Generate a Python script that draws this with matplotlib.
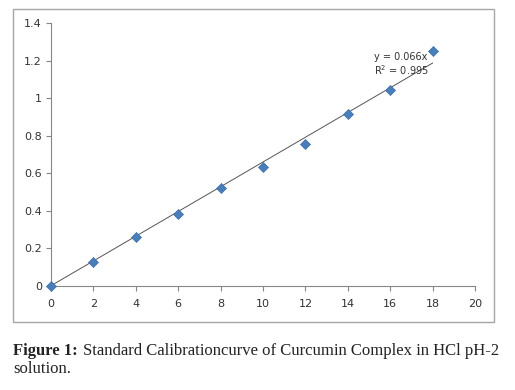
import matplotlib
matplotlib.use("Agg")
import matplotlib.pyplot as plt
import matplotlib.patches as patches

concentracao = [0, 2, 4, 6, 8, 10, 12, 14, 16, 18]
absorvancia = [0, 0.126, 0.26, 0.382, 0.523, 0.635, 0.754, 0.916, 1.046, 1.254]
declive = 0.066
r2 = 0.995
xticks = [0, 2, 4, 6, 8, 10, 12, 14, 16, 18, 20]
yticks = [0, 0.2, 0.4, 0.6, 0.8, 1, 1.2, 1.4]
yticklabels = ["0", "0.2", "0.4", "0.6", "0.8", "1", "1.2", "1.4"]

W, H = 515, 390
fig = plt.figure(figsize=(W / 100, H / 100), dpi=100)

# moldura do gráfico
caixa = patches.Rectangle((12.5 / W, 1 - 322 / H), (494 - 12.5) / W, (322 - 9) / H,
                          transform=fig.transFigure, fill=False, edgecolor="#a6a6a6", lw=1)
fig.add_artist(caixa)

ax = fig.add_axes([51 / W, 1 - 285.7 / H, (475 - 51) / W, (285.7 - 23.3) / H])
ax.set_xlim(0, 20)
ax.set_ylim(0, 1.4)

for lado in ["top", "right"]:
    ax.spines[lado].set_visible(False)
for lado in ["left", "bottom"]:
    ax.spines[lado].set_color("#868686")
    ax.spines[lado].set_linewidth(0.8)

ax.set_xticks(xticks)
ax.set_yticks(yticks)
ax.set_yticklabels(yticklabels)
ax.tick_params(axis="both", direction="out", length=3.5, width=0.8, color="#868686",
               labelsize=8, labelcolor="#333333")
ax.tick_params(axis="x", pad=6)
ax.tick_params(axis="y", pad=3)

xs = [concentracao[0], concentracao[-1]]
ax.plot(xs, [declive * v for v in xs], color="#555555", lw=0.7, zorder=2)
ax.scatter(concentracao, absorvancia, marker="D", s=26, color="#4a7ebb",
           edgecolors="#3d6fa8", linewidths=0.5, zorder=3, clip_on=False)

ax.text(15.25, 1.22, f"y = {declive}x", fontsize=7, color="#333333", va="center")
ax.text(15.25, 1.148, f"R$^2$ = {r2}", fontsize=7, color="#333333", va="center")

fig.text(13 / W, 1 - 351 / H, "Figure 1:", fontsize=12, fontweight="bold",
         family="Liberation Serif", va="center", color="#222222")
fig.text(83 / W, 1 - 351 / H, "Standard Calibrationcurve of Curcumin Complex in HCl pH-2",
         fontsize=12, family="Liberation Serif", va="center", color="#222222")
fig.text(13 / W, 1 - 369 / H, "solution.", fontsize=12, family="Liberation Serif",
         va="center", color="#222222")

fig.savefig("out.png", dpi=100)
